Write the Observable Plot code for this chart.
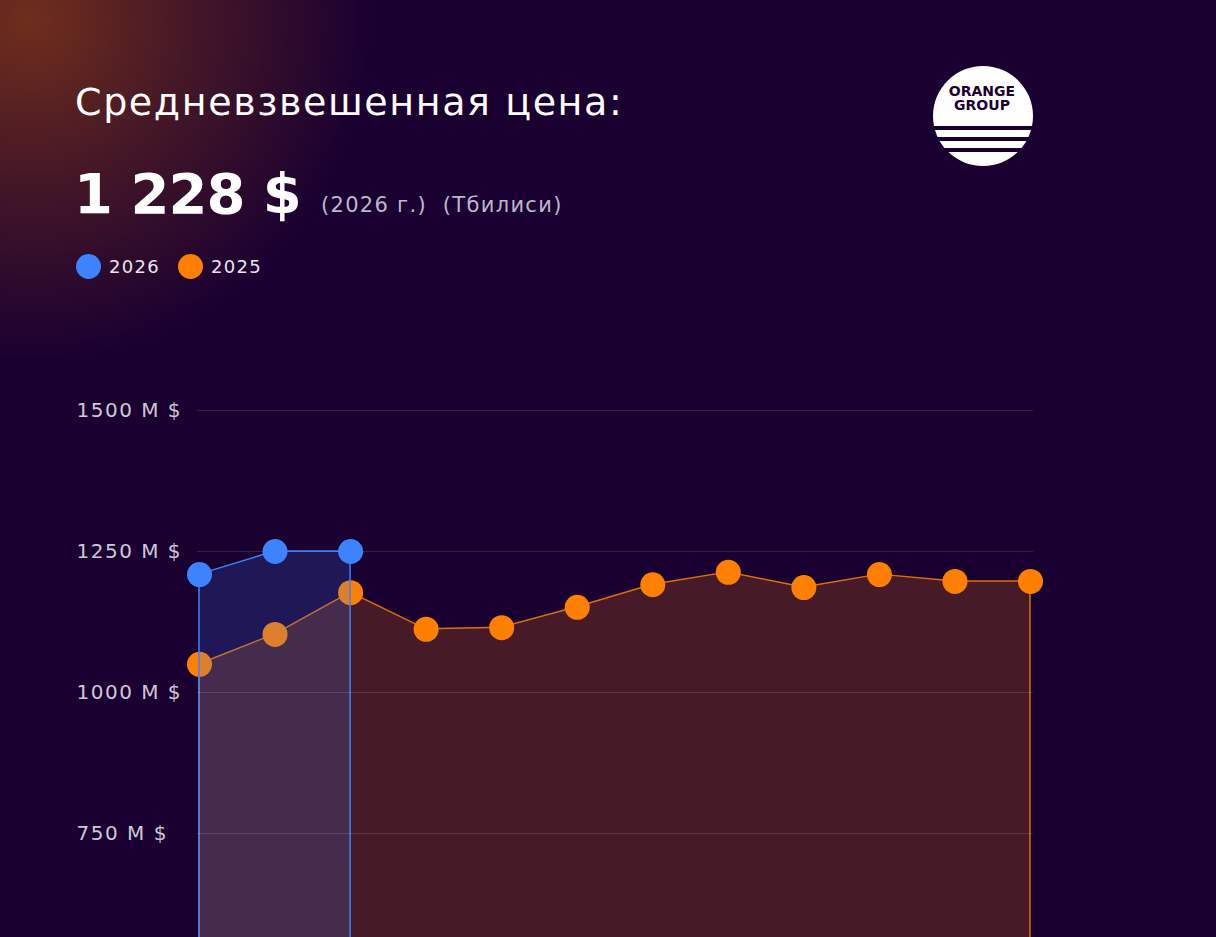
<!DOCTYPE html>
<html>
<head>
<meta charset="utf-8">
<script src="https://cdn.jsdelivr.net/npm/d3@7"></script>
<script src="https://cdn.jsdelivr.net/npm/@observablehq/plot@0.6"></script>
<style>
  html, body { margin: 0; padding: 0; width: 1216px; height: 937px; overflow: hidden; }
  body {
    background: #1a0031;
    background-image: radial-gradient(circle at 30px 20px, rgba(112,46,28,1) 0px, rgba(96,38,32,0.65) 150px, rgba(26,0,49,0) 340px);
    font-family: "DejaVu Sans", sans-serif;
    position: relative;
  }
  .abs { position: absolute; white-space: nowrap; }
  #title { left: 75px; top: 80px; font-size: 38px; color: #fff; letter-spacing: 1.6px; }
  #big { left: 74px; top: 161px; font-size: 56px; font-weight: bold; color: #fff; letter-spacing: -1px; }
  #sub { left: 321px; top: 193px; font-size: 21px; color: #bdb5cc; letter-spacing: 1.3px; }
  #legend { left: 76px; top: 254px; font-size: 18px; color: #e8e4ee; display: flex; align-items: center; letter-spacing: 1.3px; }
  .sw { display: inline-block; width: 25px; height: 25px; border-radius: 50%; margin-right: 8px; }
  .lg { margin-right: 18px; }
  #logo { left: 931px; top: 64px; }
  #chart { left: 0; top: 0; }
</style>
</head>
<body>
<div id="title" class="abs">Средневзвешенная цена:</div>
<div id="big" class="abs">1 228 $</div>
<div id="sub" class="abs">(2026 г.)&nbsp;&nbsp;(Тбилиси)</div>
<div id="legend" class="abs"></div>
<svg id="logo" class="abs" width="104" height="104" viewBox="0 0 104 104">
  <defs>
    <clipPath id="cc"><circle cx="52" cy="52" r="50"/></clipPath>
  </defs>
  <g clip-path="url(#cc)">
    <rect x="0" y="0" width="104" height="62" fill="#fff"/>
    <rect x="0" y="66" width="104" height="7" fill="#fff"/>
    <rect x="0" y="77" width="104" height="7" fill="#fff"/>
    <rect x="0" y="88" width="104" height="16" fill="#fff"/>
  </g>
  <text x="51" y="32" text-anchor="middle" font-family="DejaVu Sans" font-weight="bold" font-size="14" fill="#1a0031">ORANGE</text>
  <text x="51" y="46" text-anchor="middle" font-family="DejaVu Sans" font-weight="bold" font-size="14" fill="#1a0031">GROUP</text>
</svg>
<div id="chart" class="abs"></div>
<script>
const months = [1,2,3,4,5,6,7,8,9,10,11,12];
const values2025 = [1050, 1103, 1177, 1112, 1115, 1151, 1191, 1213, 1186, 1209, 1197, 1197];
const values2026 = [1209, 1250, 1250];
const yTicks = [750, 1000, 1250, 1500];
const seriesNames = ["2026", "2025"];
const seriesColors = ["#3d82ff", "#ff8000"];

const legend = document.getElementById("legend");
seriesNames.forEach((n, i) => {
  const s = document.createElement("span"); s.className = "sw"; s.style.background = seriesColors[i];
  const t = document.createElement("span"); t.className = "lg"; t.textContent = n;
  legend.appendChild(s); legend.appendChild(t);
});

const d2025 = months.map((m, i) => ({month: m, value: values2025[i]}));
const d2026 = values2026.map((v, i) => ({month: months[i], value: v}));
const blue = seriesColors[0], orange = seriesColors[1];

const chart = Plot.plot({
  width: 1216,
  height: 1280,
  marginLeft: 197,
  marginRight: 183,
  marginTop: 410,
  marginBottom: 24,
  insetLeft: 2,
  insetRight: 3,
  style: {background: "transparent", fontFamily: "DejaVu Sans", overflow: "visible"},
  x: {domain: [1, 12], axis: null},
  y: {domain: [0, 1500], axis: null},
  marks: [
    Plot.areaY(d2025, {x: "month", y: "value", fill: orange, fillOpacity: 0.2, stroke: orange, strokeOpacity: 0.85, strokeWidth: 1.5}),
    Plot.dot(d2025, {x: "month", y: "value", r: 12.5, fill: orange}),
    Plot.areaY(d2026, {x: "month", y: "value", fill: blue, fillOpacity: 0.18, stroke: blue, strokeWidth: 1.5}),
    Plot.ruleY(yTicks, {stroke: "#ffffff", strokeOpacity: 0.13, strokeWidth: 1.2, x1: 1, x2: 12, insetLeft: -2, insetRight: -3}),
    Plot.dot(d2026, {x: "month", y: "value", r: 12.5, fill: blue}),
    Plot.text(yTicks, {y: d => d, text: d => `${d} M $`, frameAnchor: "left", dx: -121, textAnchor: "start", fill: "#cdc7d6", fontSize: 20, style: "letter-spacing:1.5px"})
  ]
});
chart.querySelectorAll("text").forEach(t => { if (/M \$/.test(t.textContent)) t.style.letterSpacing = "1.5px"; });
document.getElementById("chart").appendChild(chart);
</script>
</body>
</html>
